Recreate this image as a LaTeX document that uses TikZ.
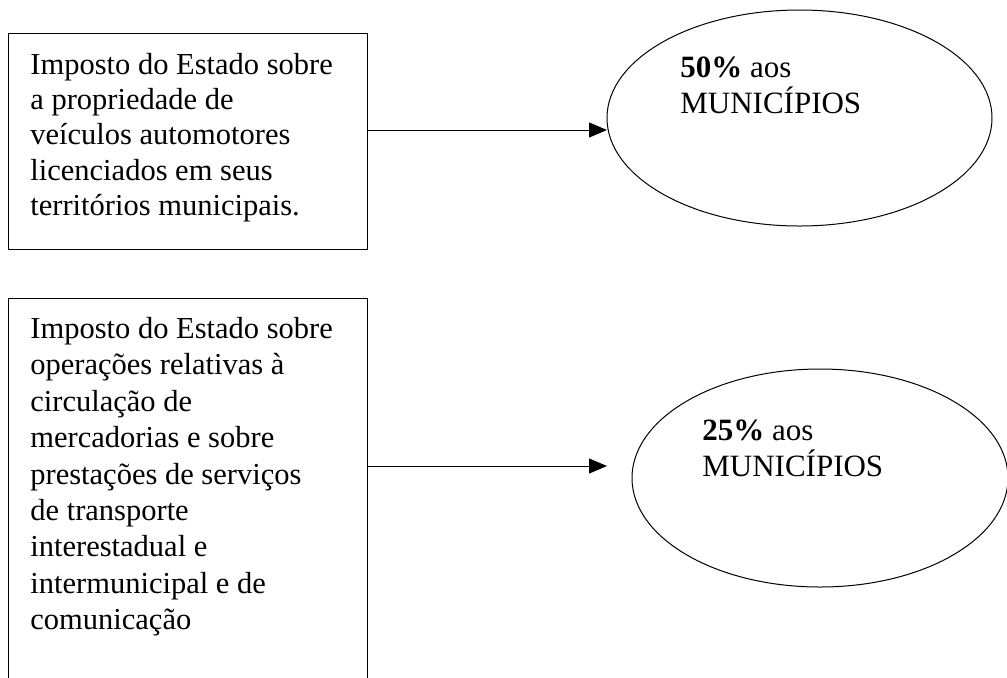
\documentclass[tikz,border=0pt]{standalone}
\usepackage{fontspec}
\setmainfont{Liberation Serif}
\usetikzlibrary{shapes.geometric, arrows.meta}

\begin{document}
\begin{tikzpicture}[x=0.5pt, y=-0.5pt, >={Triangle[length=9pt, width=7.5pt]},
  main/.style = {draw, rectangle, line width=0.5pt, inner sep=0pt, anchor=north west},
  share/.style = {draw, ellipse, line width=0.5pt, inner sep=0pt},
  txt/.style = {anchor=north west, inner sep=0pt, align=left, font=\fontsize{15.25}{17.6}\selectfont}]

\clip (0,0) rectangle (1007,677);

\node[main, minimum width=179.5pt, minimum height=108pt] (1) at (8,33) {};
\node[main, minimum width=179.5pt, minimum height=201pt] (2) at (8,298) {};
\node[share, minimum width=192.5pt, minimum height=108pt] (3) at (799.5,118) {};
\node[share, minimum width=188pt, minimum height=109pt] (4) at (820,478) {};

\node[txt] (1a) at (30,53) {Imposto do Estado sobre\\a propriedade de\\ve\'iculos automotores\\licenciados em seus\\territ\'orios municipais.};
\node[txt, font=\fontsize{15.25}{18.2}\selectfont] (2a) at (30,317) {Imposto do Estado sobre\\opera\c{c}\~oes relativas \`a\\circula\c{c}\~ao de\\mercadorias e sobre\\presta\c{c}\~oes de servi\c{c}os\\de transporte\\interestadual e\\intermunicipal e de\\comunica\c{c}\~ao};
\node[txt, font=\fontsize{15.5}{18.25}\selectfont] (3a) at (680,56) {\textbf{50\%} aos\\MUNIC\'IPIOS};
\node[txt, font=\fontsize{15.5}{18.25}\selectfont] (4a) at (702,419) {\textbf{25\%} aos\\MUNIC\'IPIOS};

\coordinate (t1) at (607,130);
\coordinate (t2) at (607,466);
\draw[->, line width=0.5pt] (1.east |- t1) -- (t1);
\draw[->, line width=0.5pt] (2.east |- t2) -- (t2);

\end{tikzpicture}
\end{document}
